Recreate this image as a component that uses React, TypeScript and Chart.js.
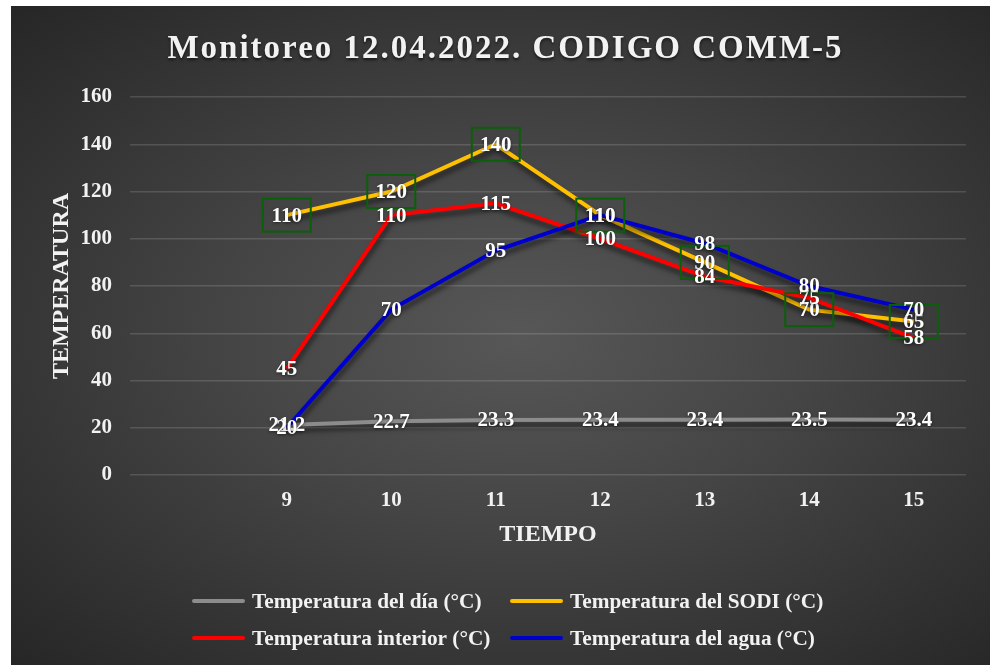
import React, { useEffect, useRef } from "react";
import { Chart, registerables } from "chart.js";

Chart.register(...registerables);

const categories = ["", "9", "10", "11", "12", "13", "14", "15"];
const diaValues = [null, 21.2, 22.7, 23.3, 23.4, 23.4, 23.5, 23.4];
const sodiValues = [null, 110, 120, 140, 110, 90, 70, 65];
const interiorValues = [null, 45, 110, 115, 100, 84, 75, 58];
const aguaValues = [null, 20, 70, 95, 110, 98, 80, 70];
const seriesNames = [
  "Temperatura del día (°C)",
  "Temperatura del SODI (°C)",
  "Temperatura interior (°C)",
  "Temperatura del agua (°C)",
];
const seriesColors = ["#8c8c8c", "#ffc000", "#ff0000", "#0000cc"];
const chartTitle = "Monitoreo 12.04.2022. CODIGO COMM-5";
const yTitle = "TEMPERATURA";
const xTitle = "TIEMPO";
const yMin = 0;
const yMax = 160;
const yStep = 20;

const FONT = "'Liberation Serif', 'Times New Roman', serif";
const TEXT = "#f2f2f2";

const shadowPlugin = {
  id: "lineShadow",
  beforeDatasetsDraw(chart: any) {
    const ctx = chart.ctx;
    ctx.save();
    ctx.shadowColor = "rgba(0,0,0,0.55)";
    ctx.shadowBlur = 5;
    ctx.shadowOffsetX = 1;
    ctx.shadowOffsetY = 5;
  },
  afterDatasetsDraw(chart: any) {
    chart.ctx.restore();
  },
};

const labelsPlugin = {
  id: "valueLabels",
  afterDatasetsDraw(chart: any) {
    const ctx = chart.ctx;
    ctx.save();
    ctx.font = `bold 21px ${FONT}`;
    ctx.textAlign = "center";
    ctx.textBaseline = "middle";
    chart.data.datasets.forEach((ds: any, di: number) => {
      const meta = chart.getDatasetMeta(di);
      meta.data.forEach((pt: any, i: number) => {
        const v = ds.data[i];
        if (v === null || v === undefined) return;
        if (di === 1) {
          ctx.strokeStyle = "#0b5f0b";
          ctx.lineWidth = 2;
          ctx.strokeRect(pt.x - 24, pt.y - 16.5, 48, 33);
        }
      });
    });
    ctx.shadowColor = "rgba(0,0,0,0.5)";
    ctx.shadowBlur = 3;
    ctx.shadowOffsetY = 1;
    chart.data.datasets.forEach((ds: any, di: number) => {
      const meta = chart.getDatasetMeta(di);
      meta.data.forEach((pt: any, i: number) => {
        const v = ds.data[i];
        if (v === null || v === undefined) return;
        ctx.fillStyle = "#ffffff";
        ctx.fillText(String(v), pt.x, pt.y + 1);
      });
    });
    ctx.restore();
  },
};

const titlePlugin = {
  id: "spacedTitle",
  afterDraw(chart: any) {
    const ctx = chart.ctx;
    ctx.save();
    ctx.font = `bold 33px ${FONT}`;
    (ctx as any).letterSpacing = "2px";
    ctx.textAlign = "center";
    ctx.textBaseline = "middle";
    ctx.shadowColor = "rgba(0,0,0,0.6)";
    ctx.shadowBlur = 3;
    ctx.shadowOffsetY = 2;
    ctx.fillStyle = TEXT;
    ctx.fillText(chartTitle, chart.width / 2 + 5, 43);
    ctx.restore();
  },
};

// legend: two columns, two rows
const legendCols = [181, 499];
const legendRows = [595, 632];
const legendPlugin = {
  id: "gridLegend",
  afterDraw(chart: any) {
    const ctx = chart.ctx;
    ctx.save();
    ctx.font = `bold 21.3px ${FONT}`;
    ctx.textAlign = "left";
    ctx.textBaseline = "middle";
    chart.data.datasets.forEach((ds: any, i: number) => {
      const x = legendCols[i % 2];
      const y = legendRows[Math.floor(i / 2)];
      ctx.strokeStyle = ds.borderColor;
      ctx.lineWidth = 4;
      ctx.lineCap = "round";
      ctx.beginPath();
      ctx.moveTo(x + 2, y);
      ctx.lineTo(x + 51, y);
      ctx.stroke();
      ctx.fillStyle = TEXT;
      ctx.fillText(ds.label, x + 60, y + 1);
    });
    ctx.restore();
  },
};

export default function App() {
  const canvasRef = useRef<HTMLCanvasElement | null>(null);

  useEffect(() => {
    if (!canvasRef.current) return;
    const allValues = [diaValues, sodiValues, interiorValues, aguaValues];
    const chart = new Chart(canvasRef.current, {
      type: "line",
      data: {
        labels: categories,
        datasets: allValues.map((vals, i) => ({
          label: seriesNames[i],
          data: vals,
          borderColor: seriesColors[i],
          backgroundColor: seriesColors[i],
          borderWidth: 4,
          pointRadius: 0,
          pointHoverRadius: 0,
          tension: 0,
          spanGaps: false,
          order: 4 - i,
        })),
      },
      options: {
        animation: false,
        responsive: false,
        maintainAspectRatio: false,
        layout: { padding: { top: 91, right: 24, bottom: 91, left: 0 } },
        plugins: {
          title: { display: false },
          tooltip: { enabled: false },
          legend: { display: false },
        },
        scales: {
          x: {
            offset: true,
            grid: { display: false, drawTicks: false },
            border: { display: false },
            ticks: {
              color: TEXT,
              font: { family: FONT, size: 21, weight: "bold" },
              padding: 13,
              maxRotation: 0,
            },
            title: {
              display: true,
              text: xTitle,
              color: TEXT,
              font: { family: FONT, size: 24, weight: "bold" },
              padding: { top: 4, bottom: 24.6 },
            },
            afterFit: (scale: any) => {
              scale.height = 99;
            },
          },
          y: {
            min: yMin,
            max: yMax,
            grid: {
              color: "rgba(255,255,255,0.14)",
              lineWidth: 1.5,
              drawTicks: false,
            },
            border: { display: false },
            ticks: {
              stepSize: yStep,
              color: TEXT,
              font: { family: FONT, size: 21, weight: "bold" },
              padding: 18,
            },
            title: {
              display: true,
              text: yTitle,
              color: TEXT,
              font: { family: FONT, size: 24, weight: "bold" },
              padding: { top: 36.8, bottom: 4 },
            },
            afterFit: (scale: any) => {
              scale.width = 119;
            },
          },
        },
      },
      plugins: [shadowPlugin, labelsPlugin, titlePlugin, legendPlugin],
    } as any);
    return () => chart.destroy();
  }, []);

  return (
    <div
      style={{
        position: "fixed",
        left: 11,
        top: 6,
        width: 979,
        height: 659,
        background:
          "radial-gradient(ellipse at 52% 50%, #575757 0%, #454545 40%, #262626 100%)",
      }}
    >
      <canvas ref={canvasRef} width={979} height={659} style={{ display: "block" }} />
    </div>
  );
}
